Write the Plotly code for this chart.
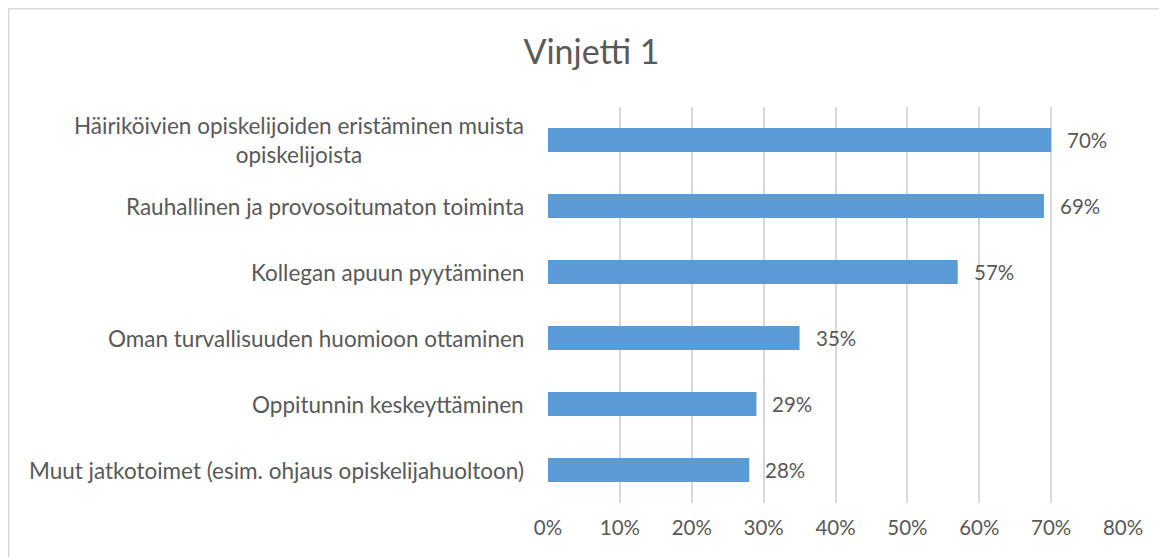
import plotly.graph_objects as go

# ----------------------------------------------------------------------------------------------------------------------
# Data
# ----------------------------------------------------------------------------------------------------------------------
title = "Vinjetti 1"
categories = [
    "Häiriköivien opiskelijoiden eristäminen muista<br>opiskelijoista",
    "Rauhallinen ja provosoitumaton toiminta",
    "Kollegan apuun pyytäminen",
    "Oman turvallisuuden huomioon ottaminen",
    "Oppitunnin keskeyttäminen",
    "Muut jatkotoimet (esim. ohjaus opiskelijahuoltoon)",
]
values = [0.70, 0.69, 0.57, 0.35, 0.29, 0.28]
x_ticks = [0, 0.1, 0.2, 0.3, 0.4, 0.5, 0.6, 0.7, 0.8]

# ----------------------------------------------------------------------------------------------------------------------
# Style
# ----------------------------------------------------------------------------------------------------------------------
font_family = "Lato, 'Open Sans', sans-serif"
text_color = "#595959"
bar_color = "#5b9bd5"
grid_color = "#d9d9d9"

fig = go.Figure()
fig.add_trace(go.Bar(x=values, y=categories, orientation="h",
                     marker=dict(color=bar_color, line=dict(width=0)),
                     hoverinfo="x+y"))

# Category labels (centered multi-line like the original)
for cat in categories:
    fig.add_annotation(x=0, xref="paper", y=cat, yref="y", text=cat, showarrow=False,
                       xanchor="right", yanchor="middle", align="center", xshift=-22,
                       font=dict(family=font_family, size=22.5, color=text_color))

# Data labels
for cat, val in zip(categories, values):
    fig.add_annotation(x=val, y=cat, text=f"{val:.0%}", showarrow=False,
                       xanchor="left", yanchor="middle", xshift=14,
                       font=dict(family=font_family, size=20.5, color=text_color))

# Chart border
fig.add_shape(type="rect", xref="paper", yref="paper", x0=-0.9378, x1=1.3, y0=-0.3, y1=1.248,
              line=dict(color=grid_color, width=1.5), fillcolor="rgba(0,0,0,0)", layer="below")

fig.update_layout(
    width=1167, height=557,
    margin=dict(l=540, r=52, t=99, b=62),
    paper_bgcolor="white", plot_bgcolor="white",
    bargap=0.64,
    showlegend=False,
    font=dict(family=font_family, color=text_color),
    title=dict(text=title, x=0.5, xref="container", xanchor="center",
               y=0.921, yref="container", yanchor="middle",
               font=dict(family=font_family, size=34, color=text_color)),
)

fig.update_xaxes(range=[0, 0.8], tickvals=x_ticks, tickformat=".0%",
                 showgrid=True, gridcolor=grid_color, gridwidth=1.5,
                 zeroline=False, showline=False, ticks="", ticklabelstandoff=10,
                 tickfont=dict(family=font_family, size=20.5, color=text_color))
fig.update_yaxes(autorange="reversed", showticklabels=False, showgrid=False,
                 zeroline=False, showline=False, ticks="")

fig.write_html("out.html")
